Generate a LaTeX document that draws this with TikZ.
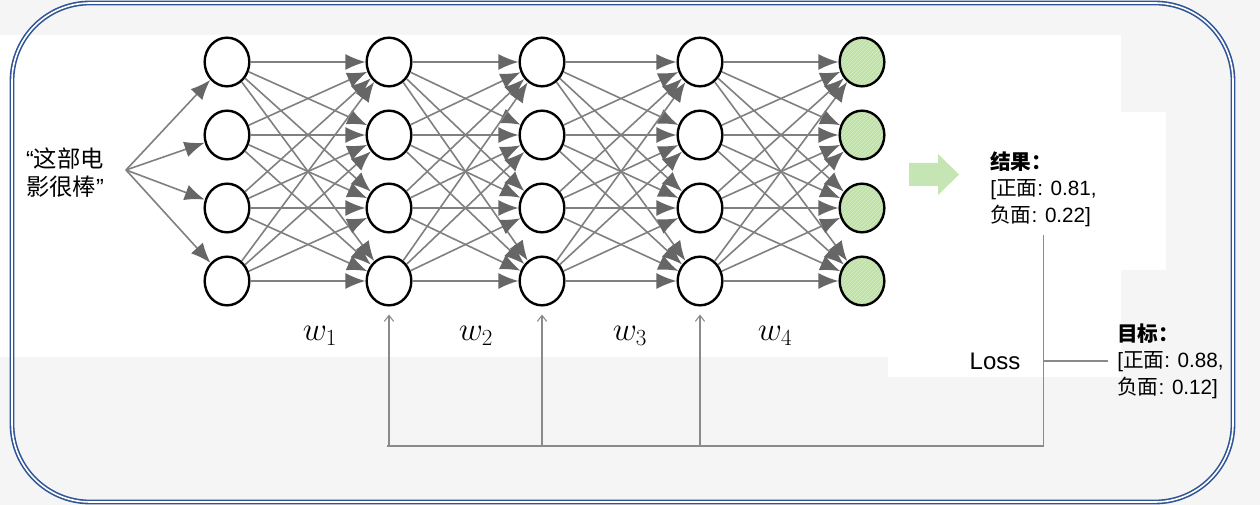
\documentclass[tikz,border=0pt]{standalone}
\usepackage{fontspec}
\setmainfont{Liberation Sans}
\newfontfamily\cjk{Noto Sans CJK SC}
\usetikzlibrary{arrows.meta, positioning, shapes.geometric, patterns}
\definecolor{paper}{HTML}{F5F5F5}
\definecolor{frameblue}{HTML}{2F5597}
\definecolor{linegray}{HTML}{808080}
\definecolor{tipgray}{HTML}{666666}
\definecolor{fbgray}{HTML}{8A8A8A}
\definecolor{nodegreen}{HTML}{BEE1A5}
\definecolor{stripegreen}{HTML}{DAEFCC}
\definecolor{arrowgreen}{HTML}{C6E5B4}
\tikzset{neuron/.style={ellipse, draw=black, line width=1.8pt, fill=white,
        inner sep=0pt, minimum width=33.5pt, minimum height=36.5pt},
    outneuron/.style={neuron, fill=none, preaction={fill=nodegreen},
        preaction={pattern=north east lines, pattern color=stripegreen}},
    link/.style={draw=linegray, line width=1.2pt,
        -{Latex[length=15pt, width=12pt, color=tipgray]}},
    feedback/.style={draw=fbgray, line width=0.8pt},
    uparrow/.style={feedback, -{Straight Barb[length=4.5pt, width=7pt]}, shorten >=6pt},
    plain/.style={inner sep=0pt, align=left, font=\fontsize{15.5}{20}\selectfont},
    weight/.style={inner sep=0pt, font=\fontsize{27}{30}\selectfont}}

\begin{document}
\begin{tikzpicture}[x=0.75pt, y=-0.75pt]
        \def \rows {4}
        \def \gap {73}
        \useasboundingbox (0,0) rectangle (1260,505);
        \fill[paper] (0,0) rectangle (1260,505);
        \fill[white] (0,35) rectangle (888,357);
        \fill[white] (888,35) rectangle (1121,377);
        \fill[white] (1121,112) rectangle (1166,270);
        \draw[frameblue, line width=1.2pt, double=white, double distance=1.2pt,
            rounded corners=58.5pt] (12,3) rectangle (1233,502);
        
        \foreach \x [count=\c] in {227,389,542,700}
        {
            \foreach \r in {1,...,\rows}
                \node[neuron] (n\c\r) at (\x, {62+\gap*(\r-1)}) {};
        }
        \foreach \r in {1,...,\rows}
            \node[outneuron] (n5\r) at (862, {62+\gap*(\r-1)}) {};
        
        \foreach \c in {1,...,4}
        {
            \pgfmathtruncatemacro{\d}{\c+1}
            \foreach \i in {1,...,\rows}
                \foreach \j in {1,...,\rows}
                    \draw[link] (n\c\i) -- (n\d\j);
        }
        
        \node[align=left, inner sep=0pt, font=\fontsize{17.5}{21}\selectfont] (sentence)
            at (65,173) {“{\cjk 这部电}\\{\cjk 影很棒}”};
        \coordinate (fan) at (126,170);
        \foreach \r in {1,...,\rows}
            \draw[link] (fan) -- (n1\r);
        
        \foreach \x/\k in {320/1,476/2,630/3,775/4}
            \node[weight] (w\k) at (\x,336) {$w_\k$};
        
        \fill[arrowgreen] (909,163) -- (938,163) -- (938,154) -- (959,174.5)
            -- (938,195) -- (938,186) -- (909,186) -- cycle;
        
        \node[plain, anchor=north west] (result) at (990,151)
            {{\cjk\bfseries 结果：}\\{}[{\cjk 正面}: 0.81,\\{\cjk 负面}: 0.22]};
        \node[inner sep=0pt, font=\fontsize{18}{21}\selectfont] (loss) at (995,361) {Loss};
        \node[plain, anchor=west] (target) at (1117,361)
            {{\cjk\bfseries 目标：}\\{}[{\cjk 正面}: 0.88,\\{\cjk 负面}: 0.12]};
        
        \coordinate (base) at (387,446);
        \draw[feedback] ([yshift=-6pt]result.south) |- (base);
        \draw[feedback] ([xshift=-7pt]target.west) -- (target.west -| result.south);
        \foreach \c in {2,3,4}
            \draw[uparrow] (n\c4.south |- base) -- (n\c4.south);
\end{tikzpicture}
\end{document}
